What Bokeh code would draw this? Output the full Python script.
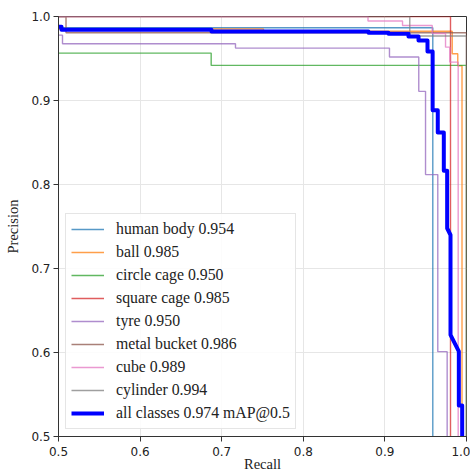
from bokeh.plotting import figure
from bokeh.models import FixedTicker, Legend, LegendItem, Range1d
from bokeh.embed import file_html
from bokeh.resources import INLINE

# ---- data ----
class_names = ["human body", "ball", "circle cage", "square cage", "tyre",
               "metal bucket", "cube", "cylinder"]
class_ap = [0.954, 0.985, 0.950, 0.985, 0.950, 0.986, 0.989, 0.994]
class_colors = ["#1f77b4", "#ff7f0e", "#2ca02c", "#d62728", "#9467bd",
                "#8c564b", "#e377c2", "#7f7f7f"]

# stepped PR curves: right edge (recall) of each precision level
human_body_r = [0.9587]
human_body_p = [0.9866]
ball_r = [0.7512, 0.9825, 0.9893, 0.9945]
ball_p = [0.9852, 0.9825, 0.9557, 0.9414]
circle_cage_r = [0.6871, 1.0]
circle_cage_p = [0.9564, 0.9418]
square_cage_r = [0.9804]
square_cage_p = [1.0]
tyre_r = [0.5049, 0.7169, 0.9056, 0.9415, 0.9498, 0.9648, 0.9763]
tyre_p = [0.9778, 0.9676, 0.9624, 0.9517, 0.9109, 0.8118, 0.6010]
metal_bucket_r = [0.5092, 1.0]
metal_bucket_p = [1.0, 0.9806]
cube_r = [0.8793, 0.9216, 0.9580, 0.9743, 0.9795, 0.9898]
cube_p = [1.0, 0.9947, 0.9893, 0.9798, 0.9635, 0.9457]
cylinder_r = [0.9305, 1.0]
cylinder_p = [1.0, 0.9768]

class_r = [human_body_r, ball_r, circle_cage_r, square_cage_r, tyre_r,
           metal_bucket_r, cube_r, cylinder_r]
class_p = [human_body_p, ball_p, circle_cage_p, square_cage_p, tyre_p,
           metal_bucket_p, cube_p, cylinder_p]

# all classes mean curve (vertices)
all_r = [0.0, 0.5037, 0.5037, 0.6875, 0.6875, 0.8799, 0.8799, 0.9044, 0.9044,
         0.9289, 0.9289, 0.9412, 0.9412, 0.9522, 0.9522, 0.9585, 0.9585, 0.9648,
         0.9648, 0.9722, 0.9722, 0.9763, 0.9763, 0.9804, 0.9804, 0.9906, 0.9906,
         0.9947, 0.9947]
all_p = [0.9878, 0.9878, 0.9842, 0.9842, 0.9822, 0.9822, 0.9806, 0.9806, 0.9795,
         0.9795, 0.9762, 0.9762, 0.9715, 0.9715, 0.9584, 0.9584, 0.8884, 0.8884,
         0.8619, 0.8619, 0.8163, 0.8163, 0.7479, 0.7399, 0.6211, 0.6013, 0.5368,
         0.5368, 0.0]
all_map = 0.974

ticks = [0.5, 0.6, 0.7, 0.8, 0.9, 1.0]
tick_labels = ["0.5", "0.6", "0.7", "0.8", "0.9", "1.0"]


def step_path(rs, ps):
    xs, ys = [0.0], [ps[0]]
    for i, (r, pv) in enumerate(zip(rs, ps)):
        xs.append(r)
        ys.append(pv)
        nxt = ps[i + 1] if i + 1 < len(ps) else 0.0
        xs.append(r)
        ys.append(nxt)
    return xs, ys


p = figure(width=470, height=474, output_backend="svg", toolbar_location=None,
           x_range=Range1d(0.5, 1.0), y_range=Range1d(0.5, 1.0),
           min_border_left=58, min_border_top=16, min_border_right=4,
           min_border_bottom=30)

p.background_fill_color = "white"
p.outline_line_color = "#333333"
p.outline_line_width = 1

for ax in (p.xaxis[0], p.yaxis[0]):
    ax.ticker = FixedTicker(ticks=ticks)
    ax.major_label_overrides = {t: l for t, l in zip(ticks, tick_labels)}
    ax.minor_tick_line_color = None
    ax.major_tick_in = 0
    ax.major_tick_out = 5
    ax.major_tick_line_color = "#333333"
    ax.axis_line_color = "#333333"
    ax.major_label_text_font = "DejaVu Sans"
    ax.major_label_text_font_size = "12px"
    ax.major_label_text_color = "#222222"
    ax.axis_label_text_font = "Liberation Serif"
    ax.axis_label_text_font_size = "14.5px"
    ax.axis_label_text_font_style = "normal"
    ax.axis_label_text_color = "#222222"

p.xaxis[0].major_label_standoff = 5
p.xaxis[0].axis_label_standoff = -3
p.yaxis[0].major_label_standoff = 3
p.yaxis[0].axis_label_standoff = 7

p.xaxis.axis_label = "Recall"
p.yaxis.axis_label = "Precision"

p.xgrid.grid_line_color = "#e6e6e6"
p.ygrid.grid_line_color = "#e6e6e6"

items = []
for name, ap, col, rs, ps in zip(class_names, class_ap, class_colors, class_r, class_p):
    xs, ys = step_path(rs, ps)
    r = p.line(xs, ys, line_color=col, line_width=1.4, line_alpha=0.75)
    items.append(LegendItem(label=f"{name} {ap:.3f}", renderers=[r]))

rb = p.line(all_r, all_p, line_color="#0000ff", line_width=4, line_join="round")
items.append(LegendItem(label=f"all classes {all_map:.3f} mAP@0.5", renderers=[rb]))

legend = Legend(items=items, location="bottom_left")
legend.label_text_font = "Liberation Serif"
legend.label_text_font_size = "15.8px"
legend.label_text_color = "#222222"
legend.label_height = 20
legend.glyph_height = 20
legend.glyph_width = 33
legend.label_standoff = 12
legend.spacing = 3
legend.padding = 5
legend.margin = 7
legend.border_line_color = "#cccccc"
legend.border_line_width = 1
legend.background_fill_color = "white"
legend.background_fill_alpha = 0.85
p.add_layout(legend)

open("out.html", "w").write(file_html(p, INLINE))
